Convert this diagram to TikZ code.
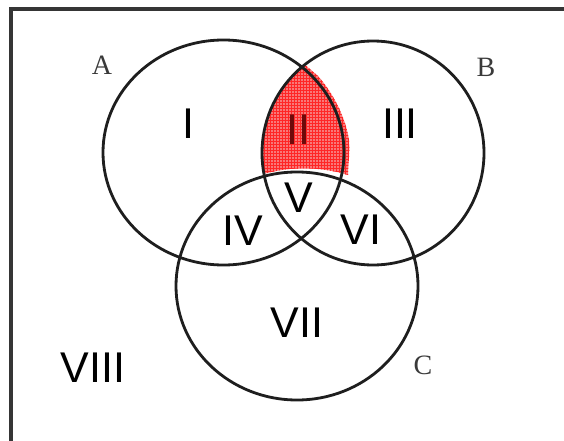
\documentclass[tikz,border=0pt]{standalone}
\usepackage{fontspec}
\setmainfont{Liberation Serif}
\newfontfamily\numfont{Liberation Sans}
\usetikzlibrary{patterns}
\definecolor{inkc}{HTML}{1E1E1E}
\definecolor{labc}{HTML}{3A3A3A}
\definecolor{redfill}{RGB}{248,120,120}
\tikzset{
  setline/.style={draw=inkc, line width=2.8pt},
  framel/.style={draw=inkc!90, line width=3.2pt},
  num/.style={font=\numfont\fontsize{43}{43}\selectfont, text=black, inner sep=0pt},
  setlab/.style={font=\fontsize{28}{28}\selectfont, text=labc, inner sep=0pt}
}
\begin{document}
\begin{tikzpicture}[x=1pt,y=-1pt]
\useasboundingbox (0,0) rectangle (564,441);
\fill[white] (0,0) rectangle (564,441);
% shaded region II (hand drawn, clipped by B)
\begin{scope}
  \clip (373,153) ellipse [x radius=111pt, y radius=112pt];
  \path[fill=redfill] (304,64) -- (318,76) .. controls (332,92) and (345,115) .. (349,140)
     .. controls (350,155) and (348,165) .. (348,175)
     .. controls (320,166) and (285,166) .. (258,176) -- (258,64) -- cycle;
  \path[pattern=grid, pattern color=red!85] (304,64) -- (318,76) .. controls (332,92) and (345,115) .. (349,140)
     .. controls (350,155) and (348,165) .. (348,175)
     .. controls (320,166) and (285,166) .. (258,176) -- (258,64) -- cycle;
\end{scope}
% frame
\draw[framel] (11,441) -- (11,9) -- (564,9);
% circles
\draw[setline] (223.5,152.5) ellipse [x radius=120.5pt, y radius=112.5pt];
\draw[setline] (373,153) ellipse [x radius=111pt, y radius=112pt];
\draw[setline] (297,286) ellipse [x radius=121pt, y radius=114pt];
% set labels
\node[setlab] (labA) at (102,65) {A};
\node[setlab] (labB) at (486,67) {B};
\node[setlab] (labC) at (423,365) {C};
% region labels
\node[num] (r1) at (188,124) {I};
\node[num, text={rgb,255:red,110;green,10;blue,10}] (r2) at (298,130) {II};
\node[num] (r3) at (400,124) {III};
\node[num] (r5) at (299,198) {V};
\node[num] (r4) at (243,231) {IV};
\node[num] (r6) at (361,230) {VI};
\node[num] (r7) at (297,323) {VII};
\node[num] (r8) at (93,368) {VIII};
\end{tikzpicture}
\end{document}
